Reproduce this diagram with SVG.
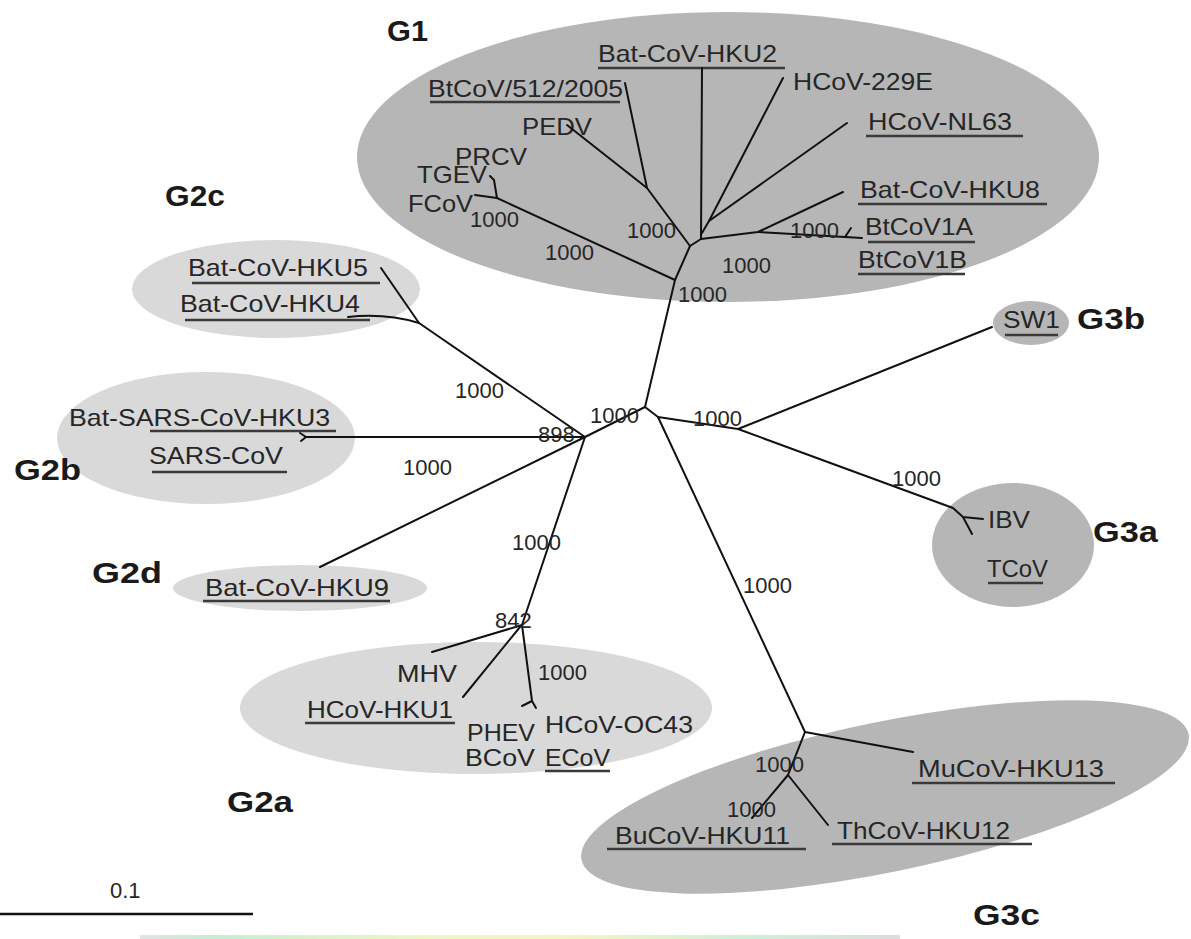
<svg xmlns="http://www.w3.org/2000/svg" width="1191" height="939" viewBox="0 0 1191 939">
<defs>
<style>
.bg{fill:#ffffff}
.dk{fill:#b6b6b6}
.lt{fill:#d9d9d9}
.tx{font-family:"Liberation Sans",Arial,sans-serif;font-size:24px;fill:#262626}
.bs{font-family:"Liberation Sans",Arial,sans-serif;font-size:22px;fill:#262626}
.gl{font-family:"Liberation Sans",Arial,sans-serif;font-size:30px;font-weight:bold;fill:#1a1a1a}
.ul{stroke:#3a3a3a;stroke-width:2.6;fill:none}
.br{stroke:#111;stroke-width:2;fill:none;stroke-linejoin:round;stroke-linecap:round}
</style>
<linearGradient id="strip" x1="0" x2="1" y1="0" y2="0">
<stop offset="0" stop-color="#e2e2e2"/>
<stop offset="0.1" stop-color="#c4efcf"/>
<stop offset="0.35" stop-color="#eaf6c6"/>
<stop offset="0.55" stop-color="#f6f5c2"/>
<stop offset="0.8" stop-color="#cdf0d6"/>
<stop offset="1" stop-color="#dcdcdc"/>
</linearGradient>
</defs>
<rect class="bg" x="0" y="0" width="1191" height="939"/>

<g id="clade-G1">
<ellipse class="dk" cx="728" cy="157" rx="371" ry="145"/>
<text class="gl" x="387" y="41" textLength="41" lengthAdjust="spacingAndGlyphs">G1</text>
<text class="tx" x="598" y="62" textLength="179" lengthAdjust="spacingAndGlyphs">Bat-CoV-HKU2</text>
<line class="ul" x1="598" y1="68" x2="785" y2="68"/>
<text class="tx" x="793" y="90" textLength="140" lengthAdjust="spacingAndGlyphs">HCoV-229E</text>
<text class="tx" x="428" y="97" textLength="195" lengthAdjust="spacingAndGlyphs">BtCoV/512/2005</text>
<line class="ul" x1="430" y1="102" x2="620" y2="102"/>
<text class="tx" x="522" y="135" textLength="70" lengthAdjust="spacingAndGlyphs">PEDV</text>
<text class="tx" x="868" y="130" textLength="144" lengthAdjust="spacingAndGlyphs">HCoV-NL63</text>
<line class="ul" x1="866" y1="136" x2="1023" y2="136"/>
<text class="tx" x="455" y="165" textLength="72" lengthAdjust="spacingAndGlyphs">PRCV</text>
<text class="tx" x="417" y="183" textLength="70" lengthAdjust="spacingAndGlyphs">TGEV</text>
<text class="tx" x="408" y="212" textLength="65" lengthAdjust="spacingAndGlyphs">FCoV</text>
<text class="tx" x="860" y="198" textLength="180" lengthAdjust="spacingAndGlyphs">Bat-CoV-HKU8</text>
<line class="ul" x1="858" y1="204" x2="1047" y2="204"/>
<text class="tx" x="865" y="235" textLength="108" lengthAdjust="spacingAndGlyphs">BtCoV1A</text>
<line class="ul" x1="868" y1="242" x2="975" y2="242"/>
<text class="tx" x="858" y="268" textLength="109" lengthAdjust="spacingAndGlyphs">BtCoV1B</text>
<line class="ul" x1="858" y1="274" x2="965" y2="274"/>
</g>

<g id="clade-G2c">
<ellipse class="lt" cx="276" cy="289" rx="144" ry="49"/>
<text class="gl" x="165" y="206" textLength="60" lengthAdjust="spacingAndGlyphs">G2c</text>
<text class="tx" x="188" y="276" textLength="180" lengthAdjust="spacingAndGlyphs">Bat-CoV-HKU5</text>
<line class="ul" x1="192" y1="283" x2="380" y2="283"/>
<text class="tx" x="180" y="312" textLength="180" lengthAdjust="spacingAndGlyphs">Bat-CoV-HKU4</text>
<line class="ul" x1="185" y1="320" x2="370" y2="320"/>
</g>

<g id="clade-G2b">
<ellipse class="lt" cx="206" cy="438" rx="149" ry="66"/>
<text class="gl" x="14" y="480" textLength="67" lengthAdjust="spacingAndGlyphs">G2b</text>
<text class="tx" x="69" y="426" textLength="261" lengthAdjust="spacingAndGlyphs">Bat-SARS-CoV-HKU3</text>
<line class="ul" x1="150" y1="431" x2="336" y2="431"/>
<text class="tx" x="149" y="464" textLength="134" lengthAdjust="spacingAndGlyphs">SARS-CoV</text>
<line class="ul" x1="152" y1="472" x2="287" y2="472"/>
</g>

<g id="clade-G2d">
<ellipse class="lt" cx="300" cy="588" rx="127" ry="23"/>
<text class="gl" x="92" y="583" textLength="70" lengthAdjust="spacingAndGlyphs">G2d</text>
<text class="tx" x="205" y="596" textLength="184" lengthAdjust="spacingAndGlyphs">Bat-CoV-HKU9</text>
<line class="ul" x1="203" y1="601" x2="390" y2="601"/>
</g>

<g id="clade-G2a">
<ellipse class="lt" cx="476" cy="708" rx="236" ry="66"/>
<text class="gl" x="227" y="812" textLength="66" lengthAdjust="spacingAndGlyphs">G2a</text>
<text class="tx" x="397" y="682" textLength="60" lengthAdjust="spacingAndGlyphs">MHV</text>
<text class="tx" x="307" y="718" textLength="146" lengthAdjust="spacingAndGlyphs">HCoV-HKU1</text>
<line class="ul" x1="305" y1="723" x2="455" y2="723"/>
<text class="tx" x="467" y="741" textLength="68" lengthAdjust="spacingAndGlyphs">PHEV</text>
<text class="tx" x="545" y="733" textLength="148" lengthAdjust="spacingAndGlyphs">HCoV-OC43</text>
<text class="tx" x="465" y="766" textLength="70" lengthAdjust="spacingAndGlyphs">BCoV</text>
<text class="tx" x="545" y="766" textLength="65" lengthAdjust="spacingAndGlyphs">ECoV</text>
<line class="ul" x1="545" y1="771" x2="610" y2="771"/>
</g>

<g id="clade-G3b">
<ellipse class="dk" cx="1031" cy="323" rx="38" ry="22"/>
<text class="tx" x="1003" y="328" textLength="57" lengthAdjust="spacingAndGlyphs">SW1</text>
<line class="ul" x1="1005" y1="335" x2="1058" y2="335"/>
<text class="gl" x="1077" y="329" textLength="68" lengthAdjust="spacingAndGlyphs">G3b</text>
</g>

<g id="clade-G3a">
<ellipse class="dk" cx="1013" cy="545" rx="81" ry="62"/>
<text class="tx" x="988" y="528" textLength="42" lengthAdjust="spacingAndGlyphs">IBV</text>
<text class="tx" x="987" y="577" textLength="61" lengthAdjust="spacingAndGlyphs">TCoV</text>
<line class="ul" x1="988" y1="583" x2="1043" y2="583"/>
<text class="gl" x="1093" y="542" textLength="65" lengthAdjust="spacingAndGlyphs">G3a</text>
</g>

<g id="clade-G3c">
<ellipse class="dk" cx="885" cy="797" rx="310" ry="75" transform="rotate(-11.7 885 797)"/>
<text class="tx" x="918" y="777" textLength="186" lengthAdjust="spacingAndGlyphs">MuCoV-HKU13</text>
<line class="ul" x1="912" y1="783" x2="1115" y2="783"/>
<text class="tx" x="615" y="844" textLength="175" lengthAdjust="spacingAndGlyphs">BuCoV-HKU11</text>
<line class="ul" x1="607" y1="849" x2="806" y2="849"/>
<text class="tx" x="837" y="839" textLength="173" lengthAdjust="spacingAndGlyphs">ThCoV-HKU12</text>
<line class="ul" x1="832" y1="844" x2="1032" y2="844"/>
<text class="gl" x="973" y="925" textLength="67" lengthAdjust="spacingAndGlyphs">G3c</text>
</g>

<g id="connectors">
<polyline class="br" points="645,407 675,280 690,246 701,239"/>
<polyline class="br" points="675,280 497,198"/>
<polyline class="br" points="690,246 647,188 567,125"/>
<polyline class="br" points="647,188 625,83"/>
<line class="br" x1="701" y1="239" x2="702" y2="68"/>
<polyline class="br" points="702,233 709,221 783,78"/>
<line class="br" x1="709" y1="221" x2="847" y2="123"/>
<polyline class="br" points="701,239 758,232 843,192"/>
<polyline class="br" points="758,232 845,237 862,238"/>
<line class="br" x1="845" y1="237" x2="851" y2="228"/>
<line class="br" x1="497" y1="198" x2="475" y2="195"/>
<polyline class="br" points="497,198 494,180 490,176"/>
<polyline class="br" points="645,407 658,417 738,429 992,327"/>
<polyline class="br" points="738,429 953,508 963,517 983,519"/>
<line class="br" x1="963" y1="517" x2="972" y2="534"/>
<polyline class="br" points="658,417 805,732 913,752"/>
<polyline class="br" points="805,732 788,775 752,818"/>
<line class="br" x1="788" y1="775" x2="828" y2="825"/>
<polyline class="br" points="645,407 585,437 419,323 381,268"/>
<path class="br" d="M419,323 Q385,313 348,317"/>
<polyline class="br" points="585,437 306,437 300,433"/>
<line class="br" x1="306" y1="437" x2="301" y2="441"/>
<line class="br" x1="585" y1="437" x2="320" y2="567"/>
<polyline class="br" points="585,437 522,625 432,652"/>
<line class="br" x1="520" y1="627" x2="463" y2="697"/>
<polyline class="br" points="522,625 532,701 522,706"/>
<line class="br" x1="532" y1="701" x2="536" y2="708"/>
</g>

<g id="bootstrap">
<text class="bs" x="470" y="227">1000</text>
<text class="bs" x="545" y="260">1000</text>
<text class="bs" x="627" y="238">1000</text>
<text class="bs" x="722" y="273">1000</text>
<text class="bs" x="678" y="302">1000</text>
<text class="bs" x="790" y="238">1000</text>
<text class="bs" x="455" y="398">1000</text>
<text class="bs" x="590" y="423">1000</text>
<text class="bs" x="693" y="426">1000</text>
<text class="bs" x="538" y="442">898</text>
<text class="bs" x="403" y="475">1000</text>
<text class="bs" x="892" y="486">1000</text>
<text class="bs" x="512" y="550">1000</text>
<text class="bs" x="743" y="593">1000</text>
<text class="bs" x="495" y="628">842</text>
<text class="bs" x="538" y="680">1000</text>
<text class="bs" x="755" y="772">1000</text>
<text class="bs" x="727" y="817">1000</text>
</g>

<g id="scale-bar">
<text class="bs" x="110" y="898">0.1</text>
<line x1="0" y1="914" x2="253" y2="914" stroke="#111" stroke-width="2.4"/>
</g>

<rect x="140" y="935" width="760" height="4" fill="url(#strip)"/>
</svg>
